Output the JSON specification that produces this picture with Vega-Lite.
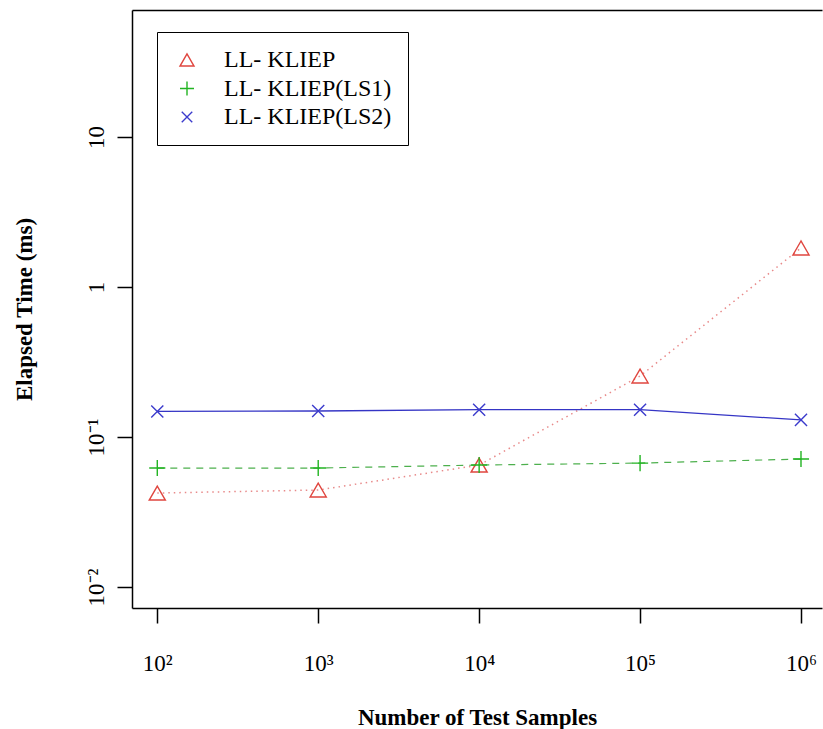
{
  "$schema": "https://vega.github.io/schema/vega-lite/v6.json",
  "autosize": {"type": "none"},
  "padding": {"left": 132, "top": 10, "right": 1, "bottom": 121},
  "width": 690,
  "height": 598,
  "config": {
    "view": {"stroke": null},
    "font": "Liberation Serif",
    "axis": {"grid": false, "domainColor": "black", "tickColor": "black", "domainWidth": 1.5, "tickWidth": 1.5, "labelColor": "black", "titleColor": "black", "labelFont": "Liberation Serif", "titleFont": "Liberation Serif"},
    "legend": {"strokeColor": "black", "fillColor": "white"}
  },
  "data": {
    "values": [
      {"n": 100, "time": 0.0423, "series": "LL- KLIEP"},
      {"n": 1000, "time": 0.0443, "series": "LL- KLIEP"},
      {"n": 10000, "time": 0.065, "series": "LL- KLIEP"},
      {"n": 100000, "time": 0.255, "series": "LL- KLIEP"},
      {"n": 1000000, "time": 1.82, "series": "LL- KLIEP"},
      {"n": 100, "time": 0.0621, "series": "LL- KLIEP(LS1)"},
      {"n": 1000, "time": 0.0621, "series": "LL- KLIEP(LS1)"},
      {"n": 10000, "time": 0.065, "series": "LL- KLIEP(LS1)"},
      {"n": 100000, "time": 0.067, "series": "LL- KLIEP(LS1)"},
      {"n": 1000000, "time": 0.0713, "series": "LL- KLIEP(LS1)"},
      {"n": 100, "time": 0.148, "series": "LL- KLIEP(LS2)"},
      {"n": 1000, "time": 0.149, "series": "LL- KLIEP(LS2)"},
      {"n": 10000, "time": 0.152, "series": "LL- KLIEP(LS2)"},
      {"n": 100000, "time": 0.152, "series": "LL- KLIEP(LS2)"},
      {"n": 1000000, "time": 0.13, "series": "LL- KLIEP(LS2)"}
    ]
  },
  "resolve": {"axis": {"x": "independent"}},
  "layer": [
    {
      "encoding": {
        "x": {
          "field": "n", "type": "quantitative",
          "scale": {"type": "log", "domain": [69.64, 1350600], "nice": false, "zero": false},
          "axis": {
            "orient": "bottom", "values": [100, 1000, 10000, 100000, 1000000],
            "labelExpr": "'10' + ['⁰','¹','²','³','⁴','⁵','⁶'][round(log(datum.value)/LN10)]",
            "tickSize": 15, "labelPadding": 47, "labelBaseline": "alphabetic", "labelFontSize": 23,
            "title": "Number of Test Samples", "titleFontSize": 23, "titleFontWeight": "bold",
            "titleBaseline": "alphabetic", "titleY": 116
          }
        },
        "y": {
          "field": "time", "type": "quantitative",
          "scale": {"type": "log", "domain": [0.007244, 70.24], "nice": false, "zero": false},
          "axis": {
            "values": [0.01, 0.1, 1, 10],
            "labelExpr": "datum.value > 5 ? '10' : datum.value > 0.5 ? '1' : datum.value > 0.05 ? '10⁻¹' : '10⁻²'",
            "tickSize": 15, "labelAngle": -90, "labelAlign": "center", "labelBaseline": "alphabetic",
            "labelPadding": 14, "labelFontSize": 23,
            "title": "Elapsed Time (ms)", "titleFontSize": 23, "titleFontWeight": "bold",
            "titleBaseline": "alphabetic", "titleX": -101
          }
        }
      },
      "layer": [
        {
          "transform": [{"filter": "datum.series == 'LL- KLIEP'"}],
          "mark": {"type": "line", "color": "#E88A8A", "strokeDash": [1.5, 4], "strokeWidth": 1.5}
        },
        {
          "transform": [{"filter": "datum.series == 'LL- KLIEP(LS1)'"}],
          "mark": {"type": "line", "color": "#4DB04D", "strokeDash": [7, 6], "strokeWidth": 1.2}
        },
        {
          "transform": [{"filter": "datum.series == 'LL- KLIEP(LS2)'"}],
          "mark": {"type": "line", "color": "#3535C5", "strokeWidth": 1.3}
        }
      ]
    },
    {
      "mark": {"type": "point", "filled": false, "strokeWidth": 1.4, "size": 260, "opacity": 1},
      "encoding": {
        "x": {
          "field": "n", "type": "quantitative",
          "scale": {"type": "log", "domain": [69.64, 1350600], "nice": false, "zero": false},
          "axis": {"orient": "top", "labels": false, "ticks": false, "domain": true, "title": null}
        },
        "y": {
          "field": "time", "type": "quantitative",
          "scale": {"type": "log", "domain": [0.007244, 70.24], "nice": false, "zero": false},
          "axis": {
            "values": [0.01, 0.1, 1, 10],
            "labelExpr": "datum.value > 5 ? '10' : datum.value > 0.5 ? '1' : datum.value > 0.05 ? '10⁻¹' : '10⁻²'",
            "tickSize": 15, "labelAngle": -90, "labelAlign": "center", "labelBaseline": "alphabetic",
            "labelPadding": 14, "labelFontSize": 23,
            "title": "Elapsed Time (ms)", "titleFontSize": 23, "titleFontWeight": "bold",
            "titleBaseline": "alphabetic", "titleX": -101
          }
        },
        "color": {
          "field": "series", "type": "nominal",
          "scale": {"domain": ["LL- KLIEP", "LL- KLIEP(LS1)", "LL- KLIEP(LS2)"], "range": ["#E0463F", "#22B422", "#3B3BCC"]},
          "legend": {
            "title": null, "orient": "none", "legendX": 25, "legendY": 22,
            "padding": 16, "strokeColor": "black", "fillColor": "white",
            "labelFontSize": 24, "labelFont": "Liberation Serif", "labelColor": "black", "labelLimit": 400,
            "symbolSize": 196, "symbolOffset": 2, "labelOffset": 25, "rowPadding": 4.5, "symbolStrokeWidth": 1.4
          }
        },
        "shape": {
          "field": "series", "type": "nominal",
          "scale": {"domain": ["LL- KLIEP", "LL- KLIEP(LS1)", "LL- KLIEP(LS2)"], "range": ["triangle-up", "M-1,0H1M0,-1V1", "M-0.75,-0.75L0.75,0.75M-0.75,0.75L0.75,-0.75"]},
          "legend": {
            "title": null, "orient": "none", "legendX": 25, "legendY": 22,
            "padding": 16, "strokeColor": "black", "fillColor": "white",
            "labelFontSize": 24, "labelFont": "Liberation Serif", "labelColor": "black", "labelLimit": 400,
            "symbolSize": 196, "symbolOffset": 2, "labelOffset": 25, "rowPadding": 4.5, "symbolStrokeWidth": 1.4
          }
        }
      }
    }
  ]
}
